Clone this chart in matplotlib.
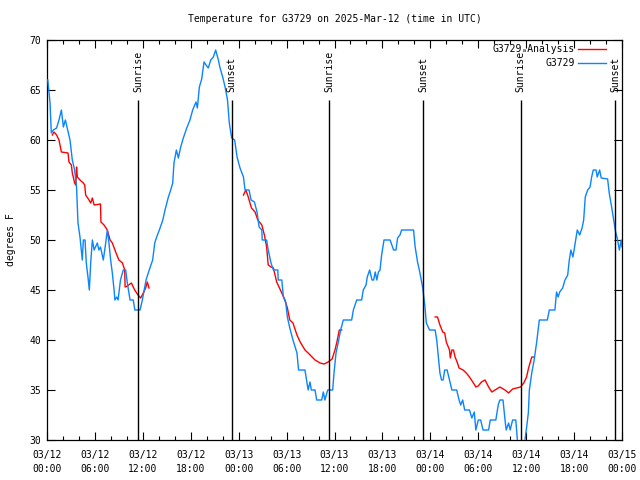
"""Temperature trace for station G3729 with analysis overlay and sun events."""

import matplotlib
matplotlib.use("Agg")
import matplotlib.pyplot as plt
import matplotlib.dates as mdates
import numpy as np
import pandas as pd

# ---- data (hours since 2025-03-12 00:00 UTC) ----
obs_hours = [
    0.1, 0.38, 0.54, 0.79, 1.2, 1.5, 1.8, 2.05, 2.3, 2.5, 2.88, 3.17, 3.46, 3.7,
    3.88, 4.13, 4.42, 4.55, 4.76, 4.92, 5.13, 5.3, 5.47, 5.68, 5.9, 6.3, 6.5, 6.7,
    7.05, 7.35, 7.55, 7.76, 7.97, 8.18, 8.4, 8.5, 8.72, 8.9, 9.2, 9.55, 9.85, 10.06,
    10.4, 10.8, 11.0, 11.65, 11.94, 12.4, 12.8, 13.23, 13.49, 13.73, 14.07, 14.5,
    14.78, 15.2, 15.49, 15.74, 15.9, 16.2, 16.45, 16.74, 17.07, 17.5, 17.9, 18.24,
    18.66, 18.83, 19.08, 19.37, 19.66, 19.91, 20.2, 20.5, 20.83, 21.12, 21.46,
    21.67, 22.0, 22.3, 22.6, 22.83, 23.0, 23.13, 23.5, 23.8, 24.17, 24.6, 24.8,
    25.3, 25.55, 25.97, 26.3, 26.56, 26.9, 26.95, 27.5, 27.7, 28.05, 28.35, 28.9,
    28.95, 29.4, 29.6, 29.9, 30.1, 30.4, 30.8, 31.3, 31.5, 32.3, 32.5, 32.7, 32.93,
    33.1, 33.56, 33.77, 34.4, 34.6, 34.8, 35.15, 35.77, 35.94, 36.19, 36.48, 36.77,
    37.1, 38.15, 38.36, 38.78, 39.4, 39.6, 39.95, 40.1, 40.4, 40.7, 40.9, 41.1,
    41.3, 41.5, 41.7, 41.9, 42.2, 42.96, 43.4, 43.7, 43.9, 44.2, 44.4, 45.9, 46.1,
    46.4, 46.7, 47.05, 47.33, 47.5, 47.9, 48.6, 48.8, 49.0, 49.2, 49.4, 49.6, 49.8,
    50.1, 50.4, 50.7, 51.3, 51.6, 51.8, 52.05, 52.3, 52.9, 53.2, 53.5, 53.7, 54.0,
    54.3, 54.6, 55.3, 55.5, 56.2, 56.5, 56.7, 57.1, 57.35, 57.5, 57.8, 58.0, 58.3,
    58.7, 58.9, 59.3, 59.85, 60.06, 60.27, 60.4, 60.7, 61.0, 61.3, 61.65, 62.65,
    62.9, 63.6, 63.8, 64.0, 64.2, 64.57, 64.86, 65.2, 65.4, 65.6, 65.85, 66.0,
    66.2, 66.4, 66.7, 67.0, 67.2, 67.4, 67.7, 68.0, 68.2, 68.4, 68.75, 68.9, 69.2,
    69.4, 70.2, 70.4, 70.7, 70.9, 71.2, 71.4, 71.67, 71.9, 72.0,
]
obs_temps = [
    66, 63.7, 60.7, 61, 61.2, 62, 63, 61.3, 62, 61.3, 60, 58, 57, 55.3,
    51.7, 50.3, 48, 50, 50, 47.7, 46.3, 45, 47.7, 50, 49, 49.7, 49, 49.3,
    48, 49.7, 51, 49.7, 48, 46.7, 45, 44, 44.3, 44, 46, 47, 47, 45.7,
    44, 44, 43, 43, 44, 46, 47, 48, 49.7, 50.3, 51, 52,
    53, 54.3, 55, 55.7, 57.7, 59, 58.2, 59.3, 60.2, 61.2, 62, 63,
    63.8, 63.2, 65.3, 66.1, 67.8, 67.5, 67.2, 68, 68.3, 69, 68,
    67.2, 66.3, 65.3, 64, 61.7, 60.8, 60.2, 60, 58.3, 57.2, 56.3, 55,
    55, 54, 53.8, 52.8, 51.3, 51, 50, 50, 49, 47.7, 47, 47,
    46, 46, 44.3, 43.7, 42.3, 41.2, 40, 38.7, 37, 37, 36, 35, 35.8,
    35, 35, 34, 34, 34.8, 34, 35, 35, 36.7, 38.7, 39.8, 41,
    42, 42, 43, 44, 44, 45, 45.5, 46.3, 47, 46, 46, 46.8,
    46, 46.8, 47, 48.5, 50, 50, 49, 49, 50.2, 50.5, 51, 51, 49.3,
    47.8, 46.7, 45.2, 43.3, 41.7, 41, 41, 40, 38.3, 36.7, 36, 36, 37,
    37, 36, 35, 35, 34, 33.5, 34, 33, 33, 32.2, 32.8, 31, 32,
    32, 31, 31, 32, 32, 33.5, 34, 34, 32, 31, 31.7, 31, 32,
    32, 30, 28.5, 30, 31.3, 32.7, 35, 36.7, 38, 39.7, 42, 42,
    43, 43, 44.8, 44.3, 44.8, 45.2, 46, 46.5, 48, 49, 48.3, 49,
    50, 51, 50.5, 51.2, 52, 54.3, 55, 55.3, 56.3, 57, 57, 56.3, 57,
    56.2, 56.1, 54.7, 53.3, 52.3, 50.8, 50.2, 49, 50, 49.3,
]

# analysis comes in three separate runs
ana1_hours = [
    0.67, 0.88, 1.2, 1.5, 1.8, 2.63, 2.75, 3.05, 3.17, 3.46, 3.6, 3.7, 3.8, 4.13,
    4.55, 4.72, 4.84, 5.26, 5.47, 5.68, 5.9, 6.7, 6.75, 7.14, 7.55, 7.9, 8.18, 8.6,
    9.0, 9.45, 9.73, 9.78, 10.06, 10.56, 10.98, 11.4, 11.73, 12.06, 12.35, 12.56,
    12.77,
]
ana1_temps = [
    60.5, 60.8, 60.5, 60, 58.8, 58.7, 57.8, 57.5, 56.7, 55.7, 55.5, 57.3, 56.3, 56,
    55.7, 55.5, 54.5, 54, 53.7, 54.2, 53.5, 53.6, 51.8, 51.5, 51, 50, 49.7, 48.8,
    48, 47.7, 47, 45.3, 45.4, 45.7, 45, 44.5, 44.2, 44.7, 45.2, 45.8,
    45.2,
]
ana2_hours = [
    24.6, 24.9, 25.2, 25.6, 26.05, 26.4, 26.9, 27.22, 27.5, 27.7, 28.05, 28.35,
    28.76, 29.05, 29.4, 29.8, 30.1, 30.4, 30.8, 31.3, 31.7, 32.3, 32.7, 33.56,
    34.2, 34.7, 35.2, 35.7, 36.06, 36.3, 36.6, 36.9,
]
ana2_temps = [
    54.5, 55, 54.3, 53.2, 52.8, 52, 51.5, 50.5, 49.3, 47.5, 47.3, 47.2,
    45.8, 45.3, 44.7, 44, 43.2, 42, 41.7, 40.5, 39.8, 39, 38.7, 38,
    37.7, 37.6, 37.8, 38.1, 39, 39.8, 41, 41,
]
ana3_hours = [
    48.6, 48.9, 49.2, 49.55, 49.8, 50.0, 50.4, 50.5, 50.7, 50.9, 51.1, 51.4, 51.6,
    52.1, 52.5, 52.9, 53.4, 53.7, 54.0, 54.4, 54.85, 55.3, 55.7, 56.1, 56.7, 57.35,
    57.8, 58.3, 58.8, 59.3, 59.7, 60.05, 60.3, 60.7, 61.0,
]
ana3_temps = [
    42.3, 42.3, 41.5, 40.8, 40.7, 39.8, 39, 38.2, 39, 39, 38.3, 37.7, 37.2,
    37, 36.7, 36.3, 35.7, 35.3, 35.4, 35.8, 36, 35.3, 34.8, 35, 35.3, 35,
    34.7, 35.1, 35.2, 35.3, 35.7, 36.3, 37.2, 38.3, 38.3,
]

sun_hours = [11.42, 23.12, 35.33, 47.1, 59.3, 71.17]
sun_labels = ["Sunrise", "Sunset", "Sunrise", "Sunset", "Sunrise", "Sunset"]

start = pd.Timestamp("2025-03-12 00:00")


def to_time(hours):
    return start + pd.to_timedelta(np.asarray(hours, dtype=float), unit="h")


FONT = ["DejaVu Sans Mono", "DejaVu Sans"]
plt.rcParams["font.family"] = FONT
plt.rcParams["font.size"] = 7

fig = plt.figure(figsize=(6.4, 4.8), dpi=100)
ax = fig.add_axes([47 / 640, 1 - 440 / 480, 575 / 640, 400 / 480])

# analysis (red) drawn under the observations
for hrs, tmp in [(ana1_hours, ana1_temps), (ana2_hours, ana2_temps),
                 (ana3_hours, ana3_temps)]:
    ax.plot(to_time(hrs), tmp, color="#ff0000", lw=1.0, zorder=2)
ax.plot(to_time(obs_hours), obs_temps, color="#0a84ff", lw=1.0, zorder=3)

# sunrise / sunset markers
sun_times = to_time(sun_hours)
ax.vlines(sun_times, 30, 64, color="black", lw=1.0, zorder=4)
for t, lab in zip(sun_times, sun_labels):
    ax.text(t, 64.8, lab, rotation=90, ha="center", va="bottom", fontsize=7)

ax.set_xlim(start, start + pd.Timedelta(hours=72))
ax.set_ylim(30, 70)
ax.set_yticks(np.arange(30, 71, 5))
ax.xaxis.set_major_locator(mdates.HourLocator(byhour=[0, 6, 12, 18]))
ax.xaxis.set_minor_locator(mdates.HourLocator(interval=2))
ax.xaxis.set_major_formatter(mdates.DateFormatter("%m/%d\n%H:%M"))

ax.tick_params(which="both", direction="in", top=True, right=True, width=0.8)
ax.tick_params(which="major", length=5.5, pad=7)
ax.tick_params(which="minor", length=3)
ax.tick_params(axis="y", pad=4)
for lab in ax.get_xticklabels():
    lab.set_linespacing(1.5)
for sp in ax.spines.values():
    sp.set_linewidth(0.9)

ax.set_ylabel("degrees F", labelpad=10)
# title is centred over the plot area, gnuplot style
ax.text(0.5, 1 + 21 / 400, "Temperature for G3729 on 2025-Mar-12 (time in UTC)",
        transform=ax.transAxes, ha="center", va="center", fontsize=7)

# gnuplot-style key: text right-aligned, sample line to its right
key = [("G3729\u2090Analysis", "#ff0000"), ("G3729", "#0a84ff")]
for i, (lab, col) in enumerate(key):
    y = 0.9775 - i * 0.035
    ax.text(0.918, y, lab, transform=ax.transAxes, ha="right", va="center",
            fontsize=7)
    ax.plot([0.9235, 0.972], [y, y], transform=ax.transAxes, color=col, lw=1.0,
            clip_on=False)

fig.savefig("out.png", dpi=100)
